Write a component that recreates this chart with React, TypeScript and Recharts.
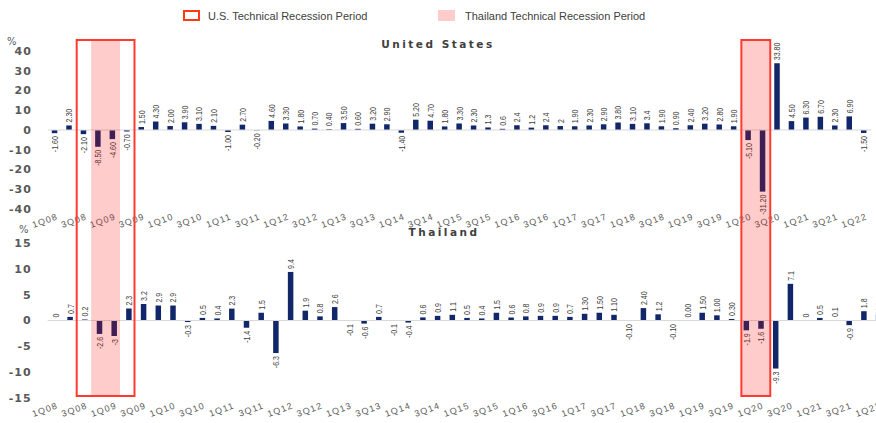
import { BarChart, Bar, XAxis, YAxis, ReferenceLine, ReferenceArea, LabelList } from "recharts";

const quarters = [
  "1Q08", "2Q08", "3Q08", "4Q08",
  "1Q09", "2Q09", "3Q09", "4Q09",
  "1Q10", "2Q10", "3Q10", "4Q10",
  "1Q11", "2Q11", "3Q11", "4Q11",
  "1Q12", "2Q12", "3Q12", "4Q12",
  "1Q13", "2Q13", "3Q13", "4Q13",
  "1Q14", "2Q14", "3Q14", "4Q14",
  "1Q15", "2Q15", "3Q15", "4Q15",
  "1Q16", "2Q16", "3Q16", "4Q16",
  "1Q17", "2Q17", "3Q17", "4Q17",
  "1Q18", "2Q18", "3Q18", "4Q18",
  "1Q19", "2Q19", "3Q19", "4Q19",
  "1Q20", "2Q20", "3Q20", "4Q20",
  "1Q21", "2Q21", "3Q21", "4Q21",
  "1Q22",
];

// values as printed on the chart (text kept so the labels match)
const usGrowth = [
  "-1.60", "2.30", "-2.10", "-8.50",
  "-4.60", "-0.70", "1.50", "4.30",
  "2.00", "3.90", "3.10", "2.10",
  "-1.00", "2.70", "-0.20", "4.60",
  "3.30", "1.80", "0.70", "0.40",
  "3.50", "0.60", "3.20", "2.90",
  "-1.40", "5.20", "4.70", "1.80",
  "3.30", "2.30", "1.3", "0.6",
  "2.4", "1.2", "2.4", "2",
  "1.90", "2.30", "2.90", "3.80",
  "3.10", "3.4", "1.90", "0.90",
  "2.40", "3.20", "2.80", "1.90",
  "-5.10", "-31.20", "33.80", "4.50",
  "6.30", "6.70", "2.30", "6.90",
  "-1.50",
];

const thGrowth = [
  "0", "0.7", "0.2", "-2.6",
  "-3", "2.3", "3.2", "2.9",
  "2.9", "-0.3", "0.5", "0.4",
  "2.3", "-1.4", "1.5", "-6.3",
  "9.4", "1.9", "0.8", "2.6",
  "-0.1", "-0.6", "0.7", "-0.1",
  "-0.4", "0.6", "0.9", "1.1",
  "0.5", "0.4", "1.5", "0.6",
  "0.8", "0.9", "0.9", "0.7",
  "1.30", "1.50", "1.10", "-0.10",
  "2.40", "1.2", "-0.10", "0.00",
  "1.50", "1.00", "0.30", "-1.9",
  "-1.6", "-9.3", "7.1", "0",
  "0.5", "0.1", "-0.9", "1.8",
  "1.1",
];

const usTicks = [-40, -30, -20, -10, 0, 10, 20, 30, 40];
const thTicks = [-15, -10, -5, 0, 5, 10, 15];

const usRecessions = [
  { from: "3Q08", to: "2Q09" },
  { from: "1Q20", to: "2Q20" },
];
const thRecessions = [
  { from: "4Q08", to: "1Q09" },
  { from: "1Q20", to: "2Q20" },
];

const usRows = quarters.map((q, i) => ({ q, value: Number(usGrowth[i]), label: usGrowth[i] }));
const thRows = quarters.map((q, i) => ({ q, value: Number(thGrowth[i]), label: thGrowth[i] }));

const BAR_COLOR = "#11276a";
const BOX_TOP = 40;
const BOX_BOTTOM = 396;

const ValueLabel = (props: any) => {
  const { x, y, width, height, value } = props;
  const cx = x + width / 2;
  const top = Math.min(y, y + height);
  const bottom = Math.max(y, y + height);
  const up = Number(value) >= 0;
  const ay = up ? top - 3 : bottom + 3;
  return (
    <text
      x={0}
      y={0}
      transform={`translate(${cx} ${ay}) rotate(-90) scale(0.74 1)`}
      textAnchor={up ? "start" : "end"}
      dominantBaseline="central"
      fontSize={9.5}
      fontFamily="'Liberation Sans', Arial, sans-serif"
      fill="#404040"
    >
      {value}
    </text>
  );
};

const QuarterTick = (props: any) => {
  const { x, y, payload } = props;
  const tx = x + 3;
  return (
    <text
      x={tx}
      y={y}
      dy={2}
      transform={`rotate(-20 ${tx} ${y})`}
      textAnchor="end"
      fontSize={9}
      letterSpacing={1.2}
      fontFamily="'Liberation Sans', Arial, sans-serif"
      fill="#595959"
    >
      {payload.value}
    </text>
  );
};

const yTick = {
  fontSize: 11,
  fill: "#595959",
  fontFamily: "'DejaVu Sans', sans-serif",
  fontWeight: "bold",
  letterSpacing: 1,
};

const pinkBox = (props: any) => (
  <rect x={props.x} y={BOX_TOP} width={props.width} height={BOX_BOTTOM - BOX_TOP} fill="#ff0000" fillOpacity={0.2} />
);
const redBox = (props: any) => (
  <rect x={props.x} y={BOX_TOP} width={props.width} height={BOX_BOTTOM - BOX_TOP} fill="none" stroke="#ff3b30" strokeWidth={2} />
);

const titleStyle: any = {
  position: "absolute",
  fontFamily: "'DejaVu Sans', sans-serif",
  fontWeight: "bold",
  fontSize: 10.5,
  letterSpacing: 2.5,
  color: "#404040",
  textAlign: "center",
};

const legendText: any = {
  position: "absolute",
  fontFamily: "'Liberation Sans', Arial, sans-serif",
  fontSize: 11,
  color: "#404040",
  lineHeight: "12px",
  whiteSpace: "nowrap",
};

const App = () => {
  return (
    <div
      style={{
        position: "absolute",
        left: 0,
        top: 0,
        width: 876,
        height: 423,
        overflow: "hidden",
        background: "#fff",
      }}
    >
      {/* legend */}
      <div style={{ position: "absolute", left: 183, top: 10, width: 17, height: 11, border: "2px solid #ff3b14", boxSizing: "border-box" }} />
      <div style={{ ...legendText, left: 208, top: 10 }}>U.S. Technical Recession Period</div>
      <div style={{ position: "absolute", left: 438, top: 10, width: 17, height: 11, background: "#ffcccc" }} />
      <div style={{ ...legendText, left: 465, top: 10 }}>Thailand Technical Recession Period</div>

      <div style={{ ...titleStyle, left: 0, width: 876, top: 38 }}>United States</div>
      <div style={{ ...titleStyle, left: 0, width: 888, top: 226 }}>Thailand</div>
      <div style={{ position: "absolute", left: 7, top: 36, fontSize: 10, color: "#595959", fontFamily: "'DejaVu Sans', sans-serif" }}>%</div>
      <div style={{ position: "absolute", left: 19, top: 224, fontSize: 10, color: "#595959", fontFamily: "'DejaVu Sans', sans-serif" }}>%</div>

      {/* Thailand panel */}
      <div style={{ position: "absolute", left: 0, top: 0 }}>
        <BarChart width={890} height={430} data={thRows} margin={{ top: 243, right: 4.45, left: 0, bottom: 7 }}>
          <XAxis dataKey="q" interval={1} axisLine={false} tickLine={false} height={25} tick={<QuarterTick />} />
          <YAxis domain={[-15, 15]} ticks={thTicks} width={47.65} axisLine={false} tickLine={false} tickMargin={10} tick={yTick} />
          <ReferenceLine y={0} stroke="#d9d9d9" />
          <Bar dataKey="value" fill={BAR_COLOR} barSize={5.5} minPointSize={0.01} isAnimationActive={false}>
            <LabelList dataKey="label" content={<ValueLabel />} />
          </Bar>
        </BarChart>
      </div>

      {/* United States panel */}
      <div style={{ position: "absolute", left: 0, top: 0 }}>
        <BarChart width={876} height={423} data={usRows} margin={{ top: 51, right: 4.6, left: 0, bottom: 184 }}>
          <XAxis dataKey="q" interval={1} axisLine={false} tickLine={false} height={30} tick={<QuarterTick />} />
          <YAxis domain={[-40, 40]} ticks={usTicks} width={47.8} axisLine={false} tickLine={false} tickMargin={10} tick={yTick} />
          <ReferenceLine y={0} stroke="#d9d9d9" />
          <Bar dataKey="value" fill={BAR_COLOR} barSize={5.5} isAnimationActive={false}>
            <LabelList dataKey="label" content={<ValueLabel />} />
          </Bar>
        </BarChart>
      </div>

      {/* recession periods, drawn over both panels on the U.S. quarter scale */}
      <div style={{ position: "absolute", left: 0, top: 0 }}>
        <BarChart width={876} height={423} data={usRows} margin={{ top: 51, right: 4.6, left: 0, bottom: 184 }}>
          <XAxis dataKey="q" height={30} tick={false} axisLine={false} tickLine={false} />
          <YAxis domain={[-40, 40]} width={47.8} tick={false} axisLine={false} tickLine={false} />
          <Bar dataKey="value" fill="transparent" barSize={5.5} isAnimationActive={false} />
          {thRecessions.map((r) => (
            <ReferenceArea key={"th" + r.from} x1={r.from} x2={r.to} y1={-40} y2={40} ifOverflow="visible" shape={pinkBox} />
          ))}
          {usRecessions.map((r) => (
            <ReferenceArea key={"us" + r.from} x1={r.from} x2={r.to} y1={-40} y2={40} ifOverflow="visible" shape={redBox} />
          ))}
        </BarChart>
      </div>
    </div>
  );
};

export default App;
